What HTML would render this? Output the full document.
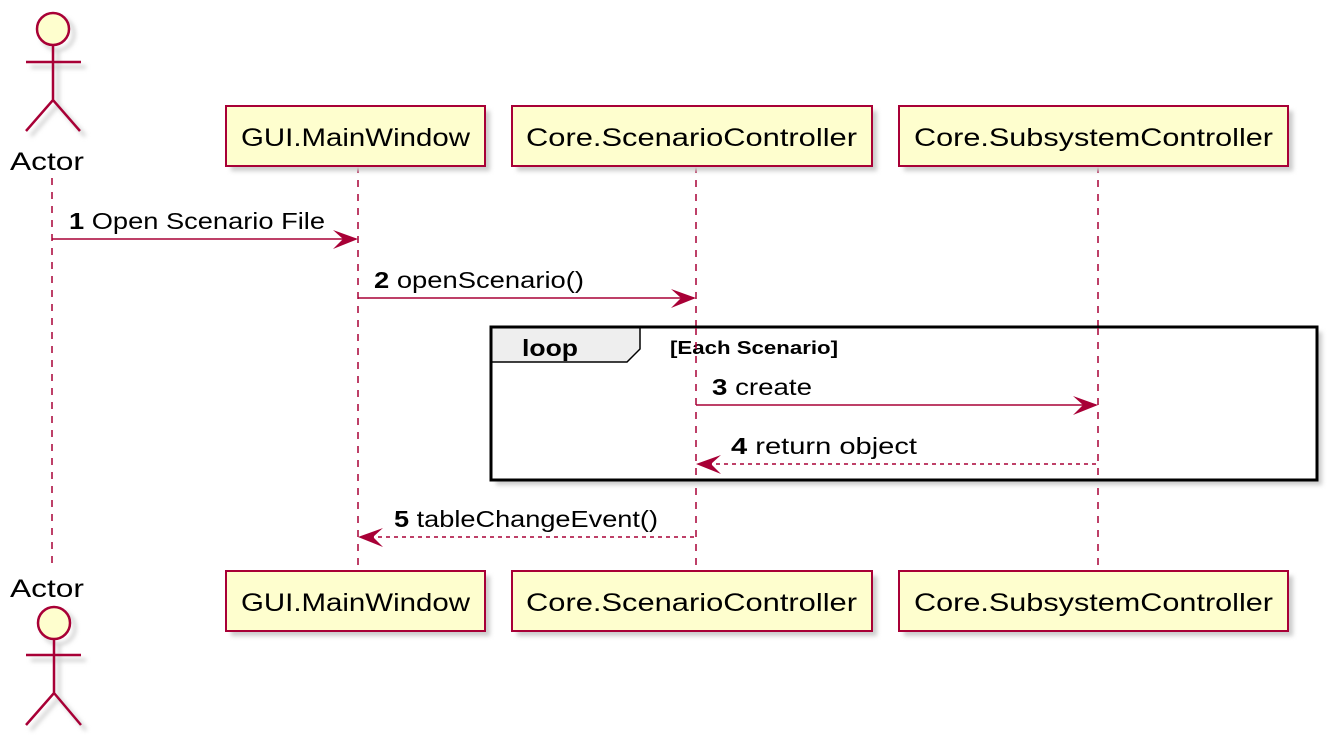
<!DOCTYPE html>
<html><head><style>body{margin:0;background:#fff}svg{display:block}text{font-family:"Liberation Sans",sans-serif;fill:#000}</style></head><body>
<svg width="1342" height="735" xmlns="http://www.w3.org/2000/svg">
<defs><filter id="sh" x="-10%" y="-10%" width="130%" height="140%"><feGaussianBlur stdDeviation="2"/></filter></defs>
<g stroke="#A80036" stroke-width="1.5" stroke-dasharray="7,7" fill="none">
<line x1="52" y1="178" x2="52" y2="566"/><line x1="358" y1="166" x2="358" y2="571"/><line x1="696" y1="166" x2="696" y2="571"/><line x1="1098" y1="166" x2="1098" y2="571"/>
</g>
<g fill="#ccc" filter="url(#sh)">
<rect x="231" y="111" width="259" height="60"/><rect x="517" y="111" width="360" height="60"/><rect x="904" y="111" width="389" height="60"/>
<rect x="231" y="576" width="259" height="60"/><rect x="517" y="576" width="360" height="60"/><rect x="904" y="576" width="389" height="60"/>
<rect x="496" y="332" width="826" height="153"/>
</g>
<g fill="#FEFECE" stroke="#A80036" stroke-width="2">
<rect x="226" y="106" width="259" height="60"/><rect x="512" y="106" width="360" height="60"/><rect x="899" y="106" width="389" height="60"/>
<rect x="226" y="571" width="259" height="60"/><rect x="512" y="571" width="360" height="60"/><rect x="899" y="571" width="389" height="60"/>
</g>
<g font-size="25" lengthAdjust="spacingAndGlyphs">
<text x="241" y="146" textLength="229" lengthAdjust="spacingAndGlyphs">GUI.MainWindow</text>
<text x="526" y="146" textLength="331" lengthAdjust="spacingAndGlyphs">Core.ScenarioController</text>
<text x="914" y="146" textLength="359" lengthAdjust="spacingAndGlyphs">Core.SubsystemController</text>
<text x="241" y="611" textLength="229" lengthAdjust="spacingAndGlyphs">GUI.MainWindow</text>
<text x="526" y="611" textLength="331" lengthAdjust="spacingAndGlyphs">Core.ScenarioController</text>
<text x="914" y="611" textLength="359" lengthAdjust="spacingAndGlyphs">Core.SubsystemController</text>
<text x="10" y="170" textLength="74" lengthAdjust="spacingAndGlyphs">Actor</text>
<text x="10" y="597" textLength="74" lengthAdjust="spacingAndGlyphs">Actor</text>
</g>
<g stroke="#ccc" stroke-width="3" fill="none" filter="url(#sh)">
<circle cx="58" cy="34" r="16"/><path d="M58 50 V105 M31 67 H86 M31 136 L58 105 L85 136"/>
<circle cx="59" cy="628" r="16"/><path d="M59 644 V698 M31 660 H86 M31 730 L59 698 L86 730"/>
</g>
<g stroke="#A80036" stroke-width="2.5" fill="#FEFECE">
<circle cx="53" cy="29" r="16"/>
<path d="M53 45 V100 M26 62 H81 M26 131 L53 100 L80 131" fill="none"/>
<circle cx="54" cy="623" r="16"/>
<path d="M54 639 V693 M26 655 H81 M26 725 L54 693 L81 725" fill="none"/>
</g>
<rect x="491" y="327" width="826" height="153" fill="#fff" stroke="#000" stroke-width="3"/>
<path d="M491 327 H640 V349 L627 362 H491 Z" fill="#EEEEEE" stroke="#000" stroke-width="1.5"/>
<rect x="491" y="327" width="826" height="153" fill="none" stroke="#000" stroke-width="3"/>
<text x="522" y="356" font-size="23" font-weight="bold" textLength="56" lengthAdjust="spacingAndGlyphs">loop</text>
<text x="670" y="354" font-size="18" font-weight="bold" textLength="168" lengthAdjust="spacingAndGlyphs">[Each Scenario]</text>
<line x1="696" y1="328" x2="696" y2="480" stroke="#A80036" stroke-width="1.5" stroke-dasharray="7,7"/>
<line x1="1098" y1="328" x2="1098" y2="480" stroke="#A80036" stroke-width="1.5" stroke-dasharray="7,7"/>
<g stroke="#A80036" stroke-width="1.5" fill="none">
<line x1="52" y1="239" x2="356" y2="239"/><line x1="358" y1="298" x2="694" y2="298"/><line x1="696" y1="405" x2="1096" y2="405"/>
<line x1="700" y1="464" x2="1098" y2="464" stroke-dasharray="4,4"/>
<line x1="362" y1="537" x2="696" y2="537" stroke-dasharray="4,4"/>
</g>
<g fill="#A80036">
<path d="M358 239 L333 230 L343 239 L333 249 Z"/>
<path d="M696 298 L671 289 L681 298 L671 308 Z"/>
<path d="M1098 405 L1073 396 L1083 405 L1073 415 Z"/>
<path d="M696 464 L721 455 L711 464 L721 474 Z"/>
<path d="M358 537 L383 528 L373 537 L383 547 Z"/>
</g>
<g font-size="23">
<text x="69" y="229" textLength="256" lengthAdjust="spacingAndGlyphs"><tspan font-weight="bold">1</tspan> Open Scenario File</text>
<text x="374" y="288" textLength="210" lengthAdjust="spacingAndGlyphs"><tspan font-weight="bold">2</tspan> openScenario()</text>
<text x="712" y="395" textLength="100" lengthAdjust="spacingAndGlyphs"><tspan font-weight="bold">3</tspan> create</text>
<text x="731" y="454" textLength="186" lengthAdjust="spacingAndGlyphs"><tspan font-weight="bold">4</tspan> return object</text>
<text x="394" y="527" textLength="264" lengthAdjust="spacingAndGlyphs"><tspan font-weight="bold">5</tspan> tableChangeEvent()</text>
</g>
</svg>
</body></html>
